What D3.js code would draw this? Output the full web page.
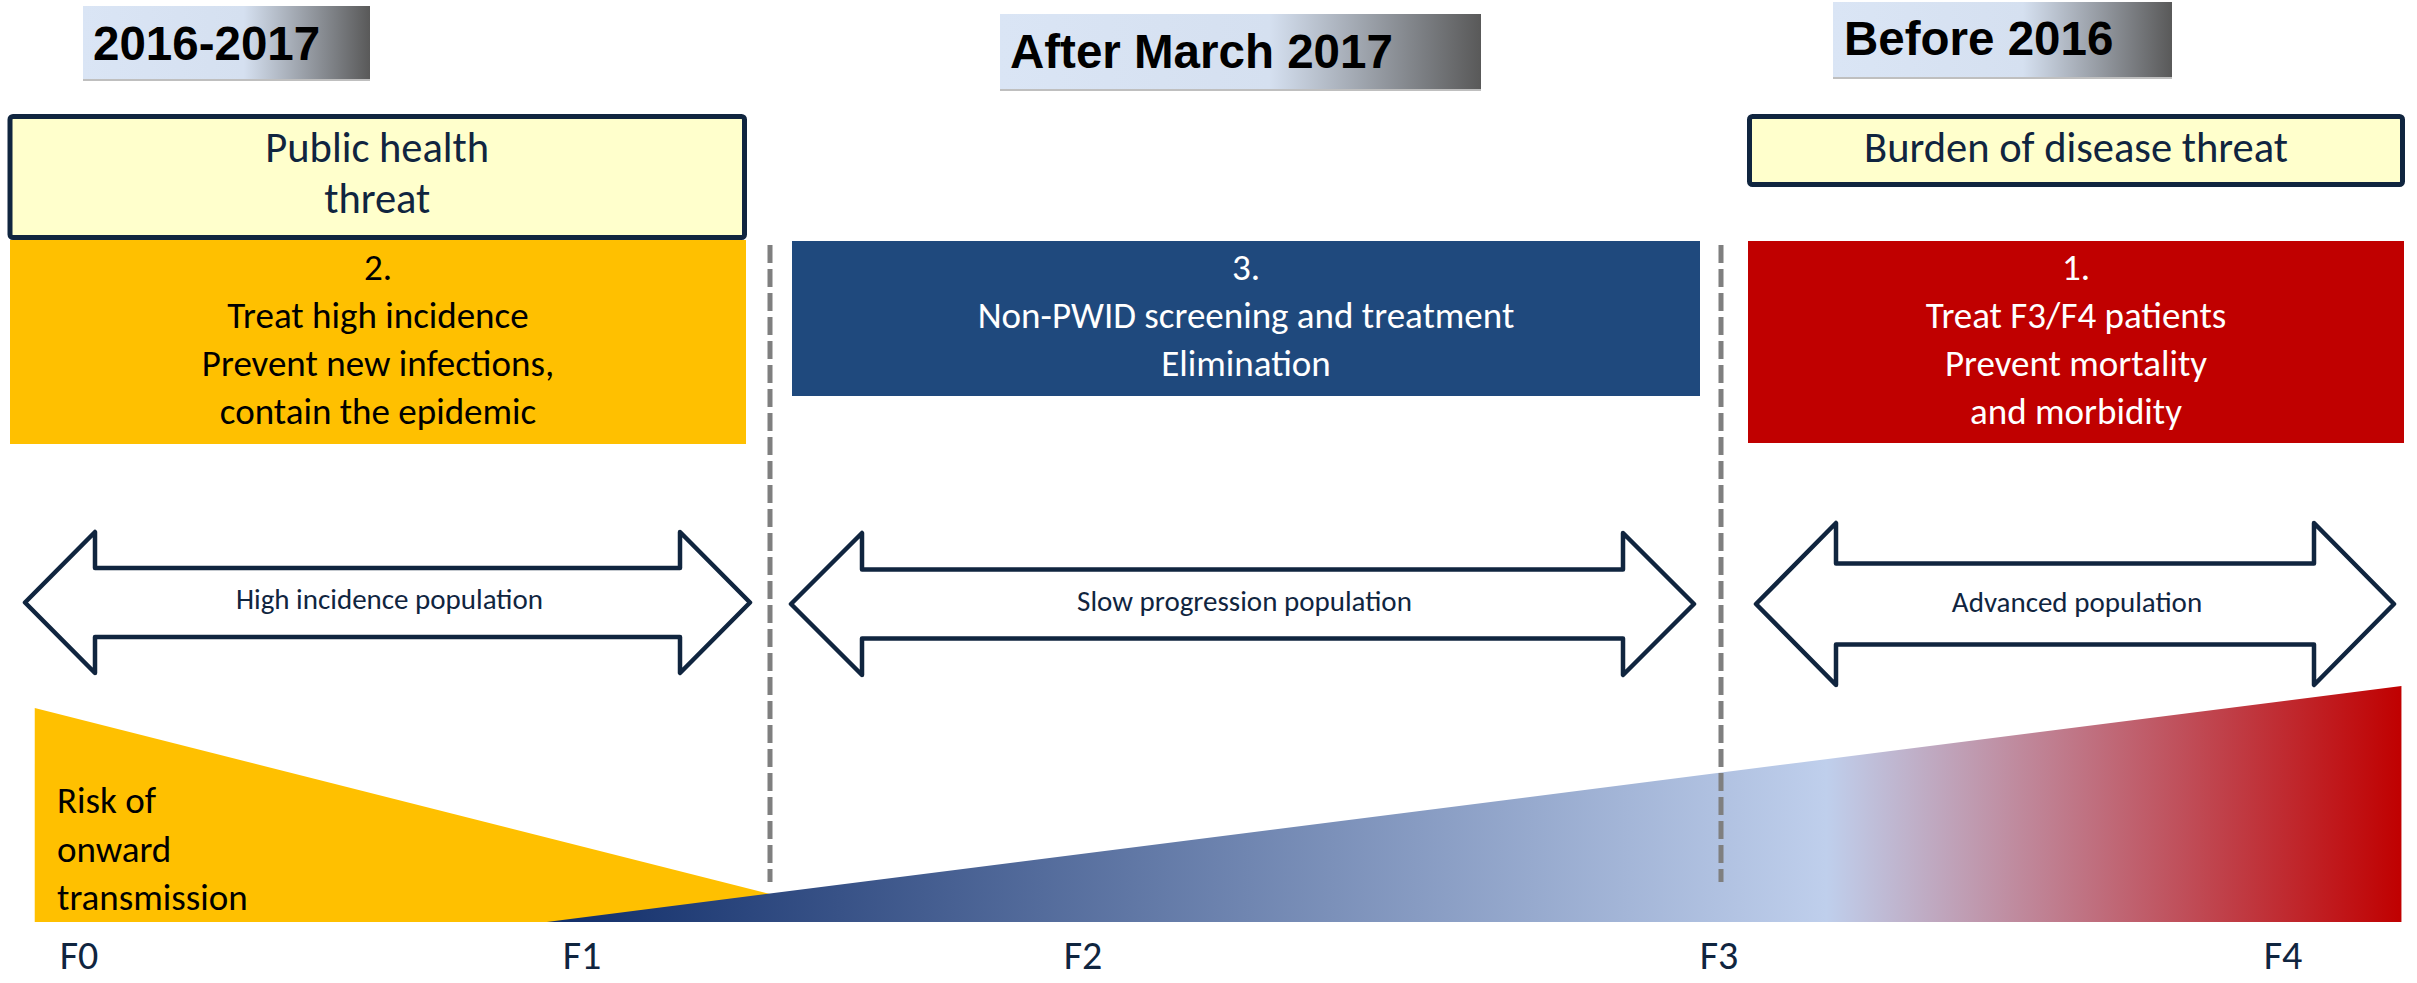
<!DOCTYPE html>
<html>
<head>
<meta charset="utf-8">
<script src="https://cdn.jsdelivr.net/npm/d3@7"></script>
<style>
  body { margin: 0; background: #fff; }
</style>
</head>
<body>
<script>
// --- data ---
var stages = ["F0", "F1", "F2", "F3", "F4"];
var periods = ["2016-2017", "After March 2017", "Before 2016"];
var threats = [["Public health", "threat"], [], ["Burden of disease threat"]];
var priorities = ["2.", "3.", "1."];
var goals = [
  ["Treat high incidence", "Prevent new infections,", "contain the epidemic"],
  ["Non-PWID screening and treatment", "Elimination"],
  ["Treat F3/F4 patients", "Prevent mortality", "and morbidity"]
];
var populations = ["High incidence population", "Slow progression population", "Advanced population"];
var riskLabel = ["Risk of", "onward", "transmission"];
// relative height of the two wedges along the fibrosis stages
var transmissionRisk = [{stage: -0.088, value: 0.907}, {stage: 1.595, value: 0}];
var diseaseBurden = [{stage: 0.93, value: 0}, {stage: 4.21, value: 1}];

// --- layout ---
var W = 2417, H = 983;
var bodyFont = "Calibri, Carlito, Lato, sans-serif";
var headFont = "Arial, 'Liberation Sans', sans-serif";
var navy = "#10253f";

var headBoxes = [
  {x: 83, y: 6, w: 287, h: 73, tx: 93, ty: 60},
  {x: 1000, y: 14, w: 481, h: 75, tx: 1010, ty: 68},
  {x: 1833, y: 2, w: 339, h: 75, tx: 1844, ty: 55}
];
var threatBoxes = [
  {x: 10, y: 116.5, w: 734.5, h: 121, ty: 162},
  null,
  {x: 1749.5, y: 116.5, w: 653, h: 68, ty: 162}
];
var goalBoxes = [
  {x: 10, y: 240, w: 736, h: 204, fill: "#ffc000", color: "#000"},
  {x: 792, y: 241, w: 908, h: 155, fill: "#1f497d", color: "#fff"},
  {x: 1748, y: 241, w: 656, h: 202, fill: "#c00000", color: "#fff"}
];
var arrows = [
  {l: 25, r: 750, head: 70, cy: 602.5, hh: 70.5, sh: 34.5, ty: 609},
  {l: 791, r: 1694, head: 71, cy: 604, hh: 71, sh: 34.5, ty: 611},
  {l: 1756, r: 2394, head: 80, cy: 604, hh: 81, sh: 40.5, ty: 612}
];
var dividers = [770, 1721];

var x = d3.scaleLinear().domain([0, 1, 2, 3, 4]).range([79, 582, 1083, 1719, 2283]);
var y = d3.scaleLinear().domain([0, 1]).range([922, 686]);

var svg = d3.select("body").append("svg").attr("width", W).attr("height", H);
var defs = svg.append("defs");

var hg = defs.append("linearGradient").attr("id", "headGrad");
hg.append("stop").attr("offset", 0).attr("stop-color", "#dae5f5");
hg.append("stop").attr("offset", 0.56).attr("stop-color", "#d5e0f0");
hg.append("stop").attr("offset", 1).attr("stop-color", "#595959");

var bg = defs.append("linearGradient").attr("id", "burdenGrad")
  .attr("gradientUnits", "userSpaceOnUse")
  .attr("x1", x(diseaseBurden[0].stage)).attr("x2", x(diseaseBurden[1].stage))
  .attr("y1", 0).attr("y2", 0);
bg.append("stop").attr("offset", 0).attr("stop-color", "#102d69");
bg.append("stop").attr("offset", 0.69).attr("stop-color", "#bfcfec");
bg.append("stop").attr("offset", 1).attr("stop-color", "#c00000");

// heading tags
headBoxes.forEach(function(b, i) {
  svg.append("rect").attr("x", b.x).attr("y", b.y + 2).attr("width", b.w).attr("height", b.h)
    .style("fill", "#bfbfbf");
  svg.append("rect").attr("x", b.x).attr("y", b.y).attr("width", b.w).attr("height", b.h)
    .style("fill", "url(#headGrad)");
  svg.append("text").attr("x", b.tx).attr("y", b.ty)
    .style("font-family", headFont).style("font-weight", "bold").style("font-size", "47.5px")
    .style("fill", "#000").text(periods[i]);
});

// threat boxes
threatBoxes.forEach(function(b, i) {
  if (!b) return;
  svg.append("rect").attr("x", b.x).attr("y", b.y).attr("width", b.w).attr("height", b.h)
    .attr("rx", 3).style("fill", "#ffffcc").style("stroke", navy).style("stroke-width", 5);
  threats[i].forEach(function(t, j) {
    svg.append("text").attr("x", b.x + b.w / 2).attr("y", b.ty + j * 51)
      .style("text-anchor", "middle").style("font-family", bodyFont).style("font-size", "42.5px")
      .style("fill", navy).text(t);
  });
});

// priority boxes
goalBoxes.forEach(function(b, i) {
  svg.append("rect").attr("x", b.x).attr("y", b.y).attr("width", b.w).attr("height", b.h)
    .style("fill", b.fill);
  [priorities[i]].concat(goals[i]).forEach(function(t, j) {
    svg.append("text").attr("x", b.x + b.w / 2).attr("y", 280 + j * 48)
      .style("text-anchor", "middle").style("font-family", bodyFont).style("font-size", "37px")
      .style("fill", b.color).text(t);
  });
});

// wedges
var area = d3.area()
  .x(function(d) { return x(d.stage); })
  .y0(y(0))
  .y1(function(d) { return y(d.value); });

svg.append("path").datum(transmissionRisk).attr("d", area).style("fill", "#ffc000");
svg.append("path").datum(diseaseBurden).attr("d", area).style("fill", "url(#burdenGrad)");

riskLabel.forEach(function(t, j) {
  svg.append("text").attr("x", 57).attr("y", 813 + j * 48.5)
    .style("font-family", bodyFont).style("font-size", "37px").style("fill", "#000").text(t);
});

// dashed dividers
dividers.forEach(function(d) {
  svg.append("line").attr("x1", d).attr("x2", d).attr("y1", 245).attr("y2", 882)
    .style("stroke", "#7f7f7f").style("stroke-width", 5).style("stroke-dasharray", "18,6");
});

// double arrows
arrows.forEach(function(a, i) {
  var bl = a.l + a.head, br = a.r - a.head;
  var pts = [
    [a.l, a.cy], [bl, a.cy - a.hh], [bl, a.cy - a.sh], [br, a.cy - a.sh], [br, a.cy - a.hh],
    [a.r, a.cy], [br, a.cy + a.hh], [br, a.cy + a.sh], [bl, a.cy + a.sh], [bl, a.cy + a.hh]
  ];
  svg.append("path").attr("d", d3.line()(pts) + "Z")
    .style("fill", "#fff").style("stroke", navy).style("stroke-width", 4.5)
    .style("stroke-linejoin", "round");
  svg.append("text").attr("x", (a.l + a.r) / 2 + 2).attr("y", a.ty)
    .style("text-anchor", "middle").style("font-family", bodyFont).style("font-size", "29px")
    .style("fill", navy).text(populations[i]);
});

// stage labels
svg.selectAll(".stage").data(stages).enter().append("text")
  .attr("class", "stage")
  .attr("x", function(d, i) { return x(i); })
  .attr("y", 969)
  .style("text-anchor", "middle").style("font-family", bodyFont).style("font-size", "40px")
  .style("fill", navy).text(function(d) { return d; });
</script>
</body>
</html>
